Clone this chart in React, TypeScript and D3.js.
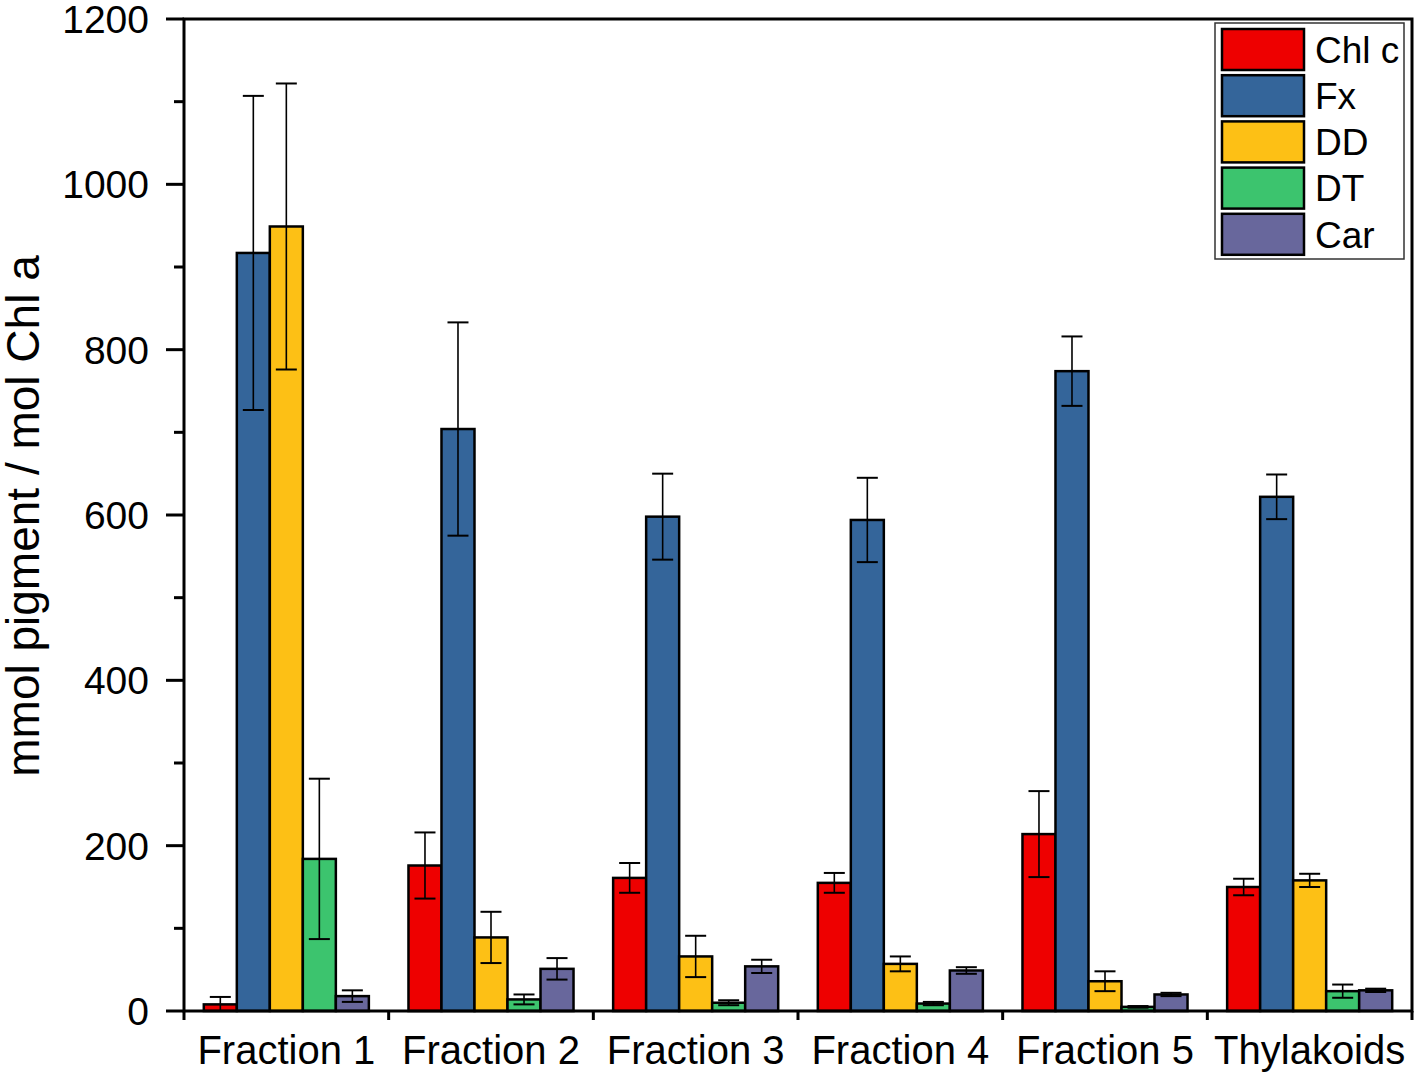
import React from "react";
import * as d3 from "d3";

const categories = ["Fraction 1", "Fraction 2", "Fraction 3", "Fraction 4", "Fraction 5", "Thylakoids"];
const seriesNames = ["Chl c", "Fx", "DD", "DT", "Car"];
const seriesColors = ["#EE0000", "#34659A", "#FDC015", "#3CC46E", "#68679C"];

const chlC = [8, 176, 161, 155, 214, 150];
const chlCErr = [9, 40, 18, 12, 52, 10];
const fx = [917, 704, 598, 594, 774, 622];
const fxErr = [190, 129, 52, 51, 42, 27];
const dd = [949, 89, 66, 57, 36, 158];
const ddErr = [173, 31, 25, 9, 12, 8];
const dt = [184, 14, 10, 9, 5, 24];
const dtErr = [97, 6, 3, 2, 1, 8];
const car = [18, 51, 54, 49, 20, 25];
const carErr = [7, 13, 8, 4, 2, 2];

const seriesValues = [chlC, fx, dd, dt, car];
const seriesErrors = [chlCErr, fxErr, ddErr, dtErr, carErr];

const yTicks = [0, 200, 400, 600, 800, 1000, 1200];
const yMinorTicks = [100, 300, 500, 700, 900, 1100];

const FONT = "'Liberation Sans', Arial, sans-serif";

export default function App() {
  const W = 1418, H = 1076;
  const left = 184, right = 1412, top = 19, bottom = 1011;

  const x0 = d3.scaleBand<string>().domain(categories).range([left, right]).paddingInner(0).paddingOuter(0);
  const x1 = d3.scaleBand<string>().domain(seriesNames).range([0, x0.bandwidth()]).paddingInner(0).paddingOuter(0.6);
  const y = d3.scaleLinear().domain([0, 1200]).range([bottom, top]);

  const boundaries = categories.map((c) => x0(c) as number).concat([right]);

  const capHalf = 10.5;

  return (
    <svg width={W} height={H} style={{ position: "absolute", left: 0, top: 0, background: "#fff" }} fontFamily={FONT}>
      <rect x={0} y={0} width={W} height={H} fill="#fff" />
      {/* bars */}
      {categories.map((cat, ci) => (
        <g key={cat}>
          {seriesNames.map((s, si) => {
            const v = seriesValues[si][ci];
            const bx = (x0(cat) as number) + (x1(s) as number);
            return (
              <rect
                key={s}
                x={bx}
                y={y(v)}
                width={x1.bandwidth()}
                height={y(0) - y(v)}
                fill={seriesColors[si]}
                stroke="#000"
                strokeWidth={2.5}
              />
            );
          })}
        </g>
      ))}
      {/* error bars */}
      {categories.map((cat, ci) => (
        <g key={cat + "-err"}>
          {seriesNames.map((s, si) => {
            const v = seriesValues[si][ci];
            const e = seriesErrors[si][ci];
            const cx = (x0(cat) as number) + (x1(s) as number) + x1.bandwidth() / 2;
            const hi = y(v + e);
            const lo = y(Math.max(0, v - e));
            return (
              <g key={s} stroke="#000">
                <line x1={cx} x2={cx} y1={hi} y2={lo} strokeWidth={1.6} />
                <line x1={cx - capHalf} x2={cx + capHalf} y1={hi} y2={hi} strokeWidth={2} />
                {v - e > 0 && <line x1={cx - capHalf} x2={cx + capHalf} y1={lo} y2={lo} strokeWidth={2} />}
              </g>
            );
          })}
        </g>
      ))}
      {/* frame */}
      <rect x={left} y={top} width={right - left} height={bottom - top} fill="none" stroke="#000" strokeWidth={3} />
      {/* y ticks */}
      {yTicks.map((t) => (
        <g key={t}>
          <line x1={left - 18} x2={left} y1={y(t)} y2={y(t)} stroke="#000" strokeWidth={3} />
          <text x={149} y={y(t)} dy="0.36em" textAnchor="end" fontSize={39} fill="#000">
            {t}
          </text>
        </g>
      ))}
      {yMinorTicks.map((t) => (
        <line key={t} x1={left - 10} x2={left} y1={y(t)} y2={y(t)} stroke="#000" strokeWidth={3} />
      ))}
      {/* x ticks */}
      {boundaries.map((b, i) => (
        <line key={i} x1={b} x2={b} y1={bottom} y2={bottom + 9} stroke="#000" strokeWidth={3} />
      ))}
      {categories.map((cat) => (
        <text
          key={cat}
          x={(x0(cat) as number) + x0.bandwidth() / 2}
          y={1064}
          textAnchor="middle"
          fontSize={40}
          fill="#000"
        >
          {cat}
        </text>
      ))}
      {/* y label */}
      <text
        transform={`translate(39, ${(top + bottom) / 2 + 1}) rotate(-90)`}
        textAnchor="middle"
        fontSize={46}
        fill="#000"
      >
        mmol pigment / mol Chl a
      </text>
      {/* legend */}
      <rect x={1215} y={23} width={189} height={236} fill="#fff" stroke="#333" strokeWidth={1.5} />
      {seriesNames.map((s, si) => (
        <g key={s}>
          <rect x={1222} y={29 + si * 46.2} width={82} height={41} fill={seriesColors[si]} stroke="#000" strokeWidth={2.5} />
          <text x={1315} y={29 + si * 46.2 + 20.5} dy="0.36em" fontSize={37} fill="#000">
            {s}
          </text>
        </g>
      ))}
    </svg>
  );
}
